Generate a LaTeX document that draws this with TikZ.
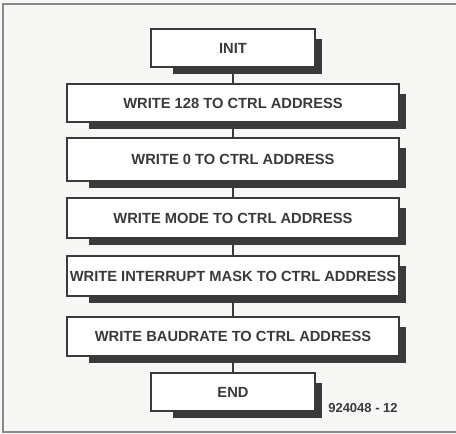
\documentclass[tikz,border=0pt]{standalone}
\usepackage{fontspec}
\setmainfont{Liberation Sans}
\definecolor{ink}{HTML}{3A3A3A}
\definecolor{paper}{HTML}{F7F7F5}
\definecolor{frame}{HTML}{8A8A8A}
\begin{document}
\begin{tikzpicture}[x=1pt, y=1pt,
  stepbox/.style={draw=ink, line width=2.2pt, fill=white, minimum height=38pt,
    inner xsep=2pt, text=ink, font=\fontsize{14.7}{16}\selectfont\bfseries},
  shortbox/.style={stepbox, minimum width=164pt},
  longbox/.style={stepbox, minimum width=332pt},
  link/.style={draw=ink, line width=1.2pt}]
  \useasboundingbox (0,0) rectangle (456,434);
  \fill[paper] (0,0) rectangle (456,434);
  \draw[frame, line width=2pt] (456,430) -- (3,430) -- (3,2) -- (456,2);

  % the steps
  \node[shortbox] (init) at (233,386) {INIT};
  \node[longbox] (wr128) at (233,331) {WRITE 128 TO CTRL ADDRESS};
  \node[longbox, minimum height=43pt] (wr0) at (233,274.5) {WRITE 0 TO CTRL ADDRESS};
  \node[longbox, minimum height=40pt] (wrmode) at (233,216) {WRITE MODE TO CTRL ADDRESS};
  \node[longbox, minimum height=40pt] (wrmask) at (233,158) {WRITE INTERRUPT MASK TO CTRL ADDRESS};
  \node[longbox, minimum height=39pt] (wrbaud) at (233,97.5) {WRITE BAUDRATE TO CTRL ADDRESS};
  \node[shortbox] (fin) at (233,42) {END};

  % drop shadows
  \foreach \n in {init,wr128,wr0,wrmode,wrmask,wrbaud,fin} {
    \fill[ink] ([yshift=-11pt]\n.north east) rectangle ([xshift=5.5pt,yshift=-5.5pt]\n.south east);
    \fill[ink] ([xshift=23pt]\n.south west) rectangle ([xshift=5.5pt,yshift=-5.5pt]\n.south east);
  }

  % links
  \draw[link] (init) -- (wr128);
  \draw[link] ([yshift=-5.5pt]wr128.south) -- (wr0);
  \draw[link] ([yshift=-5.5pt]wr0.south) -- (wrmode);
  \draw[link] ([yshift=-5.5pt]wrmode.south) -- (wrmask);
  \draw[link] ([yshift=-5.5pt]wrmask.south) -- (wrbaud);
  \draw[link] ([yshift=-5.5pt]wrbaud.south) -- (fin);

  \node[text=ink, font=\fontsize{13}{15}\selectfont\bfseries] (fig) at (363,26) {924048 - 12};
\end{tikzpicture}
\end{document}
